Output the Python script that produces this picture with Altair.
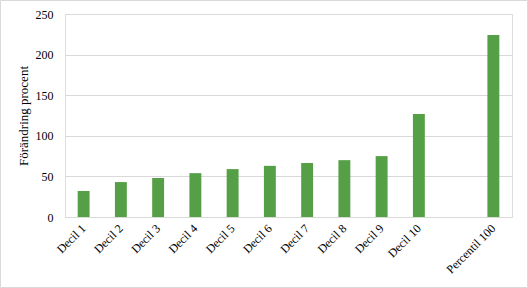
import altair as alt
import pandas as pd

categories = ["Decil 1", "Decil 2", "Decil 3", "Decil 4", "Decil 5", "Decil 6",
              "Decil 7", "Decil 8", "Decil 9", "Decil 10", "Percentil 100"]
values = [32, 43, 48, 54, 59, 63, 66.5, 70, 75, 127, 224]
spacer = " "
domain = categories[:10] + [spacer] + categories[10:]
y_ticks = [0, 50, 100, 150, 200, 250]

df = pd.DataFrame({"kategori": categories, "procent": values})

FONT = "Liberation Serif"
W, H = 447, 203

bars = alt.Chart(df).mark_bar(color="#55A046").encode(
    x=alt.X("kategori:N", sort=domain,
            scale=alt.Scale(domain=domain, paddingInner=0.68, paddingOuter=0.34),
            axis=alt.Axis(title=None, labelAngle=-45, labelAlign="right",
                          labelBaseline="middle", labelPadding=9, ticks=False,
                          domainColor="#D9D9D9", domainWidth=1,
                          labelFont=FONT, labelFontSize=12, labelColor="#000000",
                          grid=False)),
    y=alt.Y("procent:Q", scale=alt.Scale(domain=[0, 250], nice=False),
            axis=alt.Axis(title="Förändring procent", values=y_ticks, ticks=False,
                          domain=False, gridColor="#D9D9D9", labelPadding=12,
                          labelFont=FONT, labelFontSize=12, labelColor="#000000",
                          titleFont=FONT, titleFontSize=13, titleFontWeight="normal",
                          titleColor="#000000", titlePadding=5)),
)

border = alt.Chart(pd.DataFrame({"a": [0]})).mark_rect(
    fill=None, stroke="#D9D9D9", strokeWidth=1, clip=False
).encode(
    x=alt.value(-64.5), x2=alt.value(W + 15.5),
    y=alt.value(-13.5), y2=alt.value(H + 70.5),
)

chart = alt.layer(border, bars).properties(
    width=W, height=H,
    autosize=alt.AutoSizeParams(type="none"),
    padding={"left": 65, "top": 14, "right": 16, "bottom": 71},
).configure_view(stroke=None).configure(background="white")

chart.save("out.html", embed_options={"renderer": "svg", "actions": False})
